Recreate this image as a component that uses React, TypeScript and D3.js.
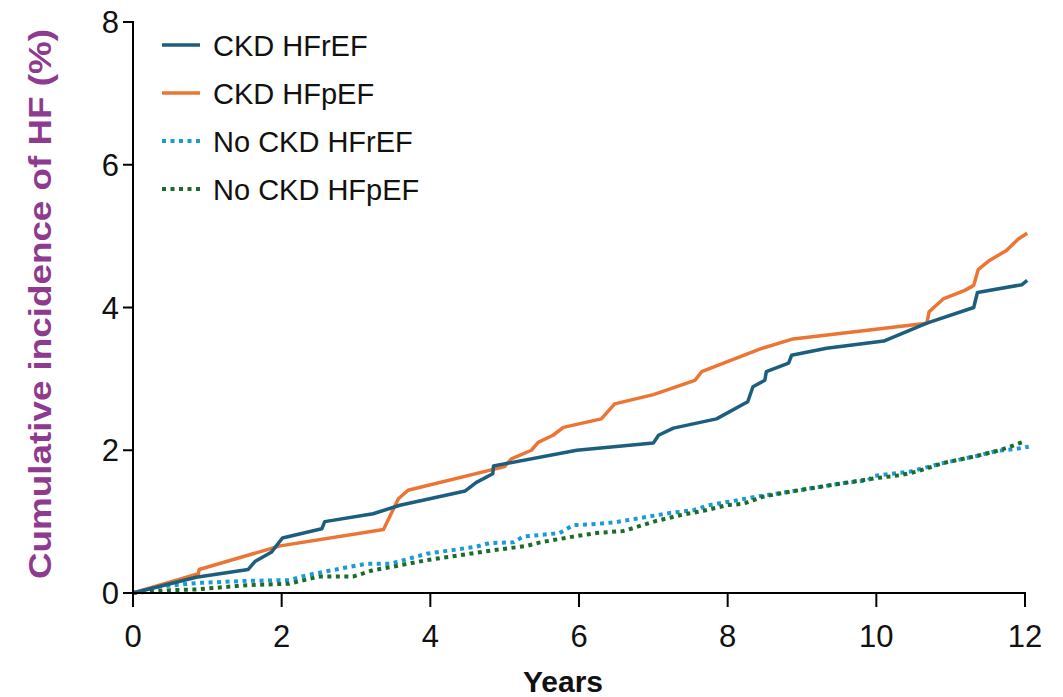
import React from "react";
import * as d3 from "d3";

// CKD HFrEF (solid dark blue)
const ckdRefYears = [0, 0.85, 1.55, 1.64, 1.86, 2.01, 2.54, 2.58, 3.23, 3.59, 4.47, 4.62, 4.84, 4.85, 5.97, 7.0, 7.07, 7.27, 7.85, 8.27, 8.34, 8.5, 8.52, 8.82, 8.86, 9.33, 10.1, 10.68, 11.31, 11.36, 11.96, 12.03];
const ckdRefValues = [0, 0.22, 0.33, 0.44, 0.57, 0.77, 0.9, 1.0, 1.11, 1.23, 1.43, 1.55, 1.67, 1.78, 2.0, 2.1, 2.21, 2.31, 2.44, 2.68, 2.89, 2.98, 3.1, 3.22, 3.33, 3.43, 3.53, 3.78, 4.0, 4.21, 4.32, 4.38];

// CKD HFpEF (solid orange)
const ckdPresYears = [0, 0.88, 0.89, 1.98, 3.37, 3.57, 3.7, 5.0, 5.09, 5.36, 5.45, 5.65, 5.79, 6.3, 6.48, 7.0, 7.56, 7.65, 8.44, 8.88, 10.68, 10.71, 10.9, 11.19, 11.31, 11.37, 11.51, 11.75, 11.91, 12.03];
const ckdPresValues = [0, 0.27, 0.33, 0.66, 0.89, 1.32, 1.44, 1.77, 1.88, 2.0, 2.11, 2.21, 2.32, 2.44, 2.65, 2.78, 2.98, 3.1, 3.42, 3.56, 3.78, 3.94, 4.12, 4.24, 4.31, 4.53, 4.65, 4.8, 4.96, 5.04];

// No CKD HFrEF (dotted light blue)
const noCkdRefYears = [0, 0.36, 0.86, 1.53, 2.1, 2.34, 2.83, 3.14, 3.46, 3.64, 3.95, 4.22, 4.62, 4.8, 5.12, 5.25, 5.74, 5.92, 6.26, 6.48, 6.82, 7.22, 7.54, 7.74, 8.08, 8.39, 8.84, 9.56, 9.89, 9.96, 10.45, 10.9, 11.35, 11.62, 11.89, 12.05];
const noCkdRefValues = [0, 0.09, 0.14, 0.17, 0.18, 0.25, 0.35, 0.41, 0.41, 0.46, 0.55, 0.59, 0.65, 0.7, 0.71, 0.79, 0.84, 0.95, 0.97, 0.99, 1.05, 1.12, 1.16, 1.23, 1.29, 1.35, 1.42, 1.54, 1.58, 1.64, 1.7, 1.82, 1.92, 1.99, 2.02, 2.05];

// No CKD HFpEF (dotted green)
const noCkdPresYears = [0, 0.5, 0.86, 1.53, 2.1, 2.5, 2.96, 3.23, 3.5, 3.95, 4.4, 4.85, 5.3, 5.48, 5.92, 6.24, 6.6, 6.73, 7.04, 7.36, 7.67, 7.99, 8.21, 8.48, 8.84, 9.56, 10.0, 10.32, 10.54, 10.9, 11.35, 11.62, 11.8, 11.98];
const noCkdPresValues = [0, 0.04, 0.05, 0.11, 0.13, 0.23, 0.23, 0.32, 0.37, 0.46, 0.53, 0.6, 0.66, 0.71, 0.79, 0.84, 0.87, 0.91, 1.01, 1.09, 1.15, 1.23, 1.25, 1.35, 1.42, 1.54, 1.61, 1.65, 1.7, 1.82, 1.92, 1.99, 2.05, 2.12];

const xTicks = [0, 2, 4, 6, 8, 10, 12];
const yTicks = [0, 2, 4, 6, 8];
const legendLabels = ["CKD HFrEF", "CKD HFpEF", "No CKD HFrEF", "No CKD HFpEF"];

const font = "'Liberation Sans', Arial, sans-serif";

const App = () => {
  const width = 1063;
  const height = 697;
  const x = d3.scaleLinear().domain([0, 12]).range([133, 1025]);
  const y = d3.scaleLinear().domain([0, 8]).range([593, 22]);

  const line = d3
    .line<[number, number]>()
    .x((d) => x(d[0]))
    .y((d) => y(d[1]));

  const zip = (a: number[], b: number[]) => a.map((v, i) => [v, b[i]] as [number, number]);

  const series = [
    { name: legendLabels[0], pts: zip(ckdRefYears, ckdRefValues), color: "#1b5e7e", dash: null },
    { name: legendLabels[1], pts: zip(ckdPresYears, ckdPresValues), color: "#ec7534", dash: null },
    { name: legendLabels[2], pts: zip(noCkdRefYears, noCkdRefValues), color: "#1a9ad6", dash: "4 4.5" },
    { name: legendLabels[3], pts: zip(noCkdPresYears, noCkdPresValues), color: "#1b6b2a", dash: "4 4.5" },
  ];
  // draw order: dotted first, then orange, then dark blue on top
  const drawOrder = [2, 3, 1, 0];

  return (
    <svg width={width} height={height} style={{ position: "absolute", left: 0, top: 0, background: "#fff" }}>
      {/* lines */}
      {drawOrder.map((i) => {
        const s = series[i];
        return (
          <path
            key={s.name}
            d={line(s.pts) || ""}
            fill="none"
            stroke={s.color}
            strokeWidth={s.dash ? 4 : 3.5}
            strokeDasharray={s.dash || undefined}
            strokeLinejoin="round"
          />
        );
      })}

      {/* y axis */}
      <line x1={x(0)} x2={x(0)} y1={y(8) - 1} y2={y(0) + 1} stroke="#000" strokeWidth={2} />
      {yTicks.map((t) => (
        <g key={"y" + t}>
          <line x1={x(0) - 10} x2={x(0)} y1={y(t)} y2={y(t)} stroke="#000" strokeWidth={2} />
          <text x={x(0) - 14} y={y(t) + 11} textAnchor="end" fontSize={31} fontFamily={font} fill="#111">
            {t}
          </text>
        </g>
      ))}

      {/* x axis */}
      <line x1={x(0) - 1} x2={x(12) + 1} y1={y(0)} y2={y(0)} stroke="#000" strokeWidth={2} />
      {xTicks.map((t) => (
        <g key={"x" + t}>
          <line x1={x(t)} x2={x(t)} y1={y(0)} y2={y(0) + 14} stroke="#000" strokeWidth={2} />
          <text x={x(t)} y={647} textAnchor="middle" fontSize={31} fontFamily={font} fill="#111">
            {t}
          </text>
        </g>
      ))}

      {/* axis titles */}
      <text x={563} y={692} textAnchor="middle" fontSize={30} fontWeight="bold" fontFamily={font} fill="#111">
        Years
      </text>
      <text
        transform={`translate(51,${304}) rotate(-90)`}
        textAnchor="middle"
        fontSize={32}
        fontWeight="bold"
        fontFamily={font}
        fill="#8e3a8f"
        textLength={550}
        lengthAdjust="spacingAndGlyphs"
      >
        Cumulative incidence of HF (%)
      </text>

      {/* legend */}
      {series.map((s, i) => {
        const ly = 45 + i * 48;
        return (
          <g key={"leg" + i}>
            <line
              x1={162}
              x2={200}
              y1={ly}
              y2={ly}
              stroke={s.color}
              strokeWidth={s.dash ? 4 : 3.5}
              strokeDasharray={s.dash || undefined}
            />
            <text x={213} y={ly + 11} fontSize={29} fontFamily={font} fill="#111">
              {s.name}
            </text>
          </g>
        );
      })}
    </svg>
  );
};

export default App;
